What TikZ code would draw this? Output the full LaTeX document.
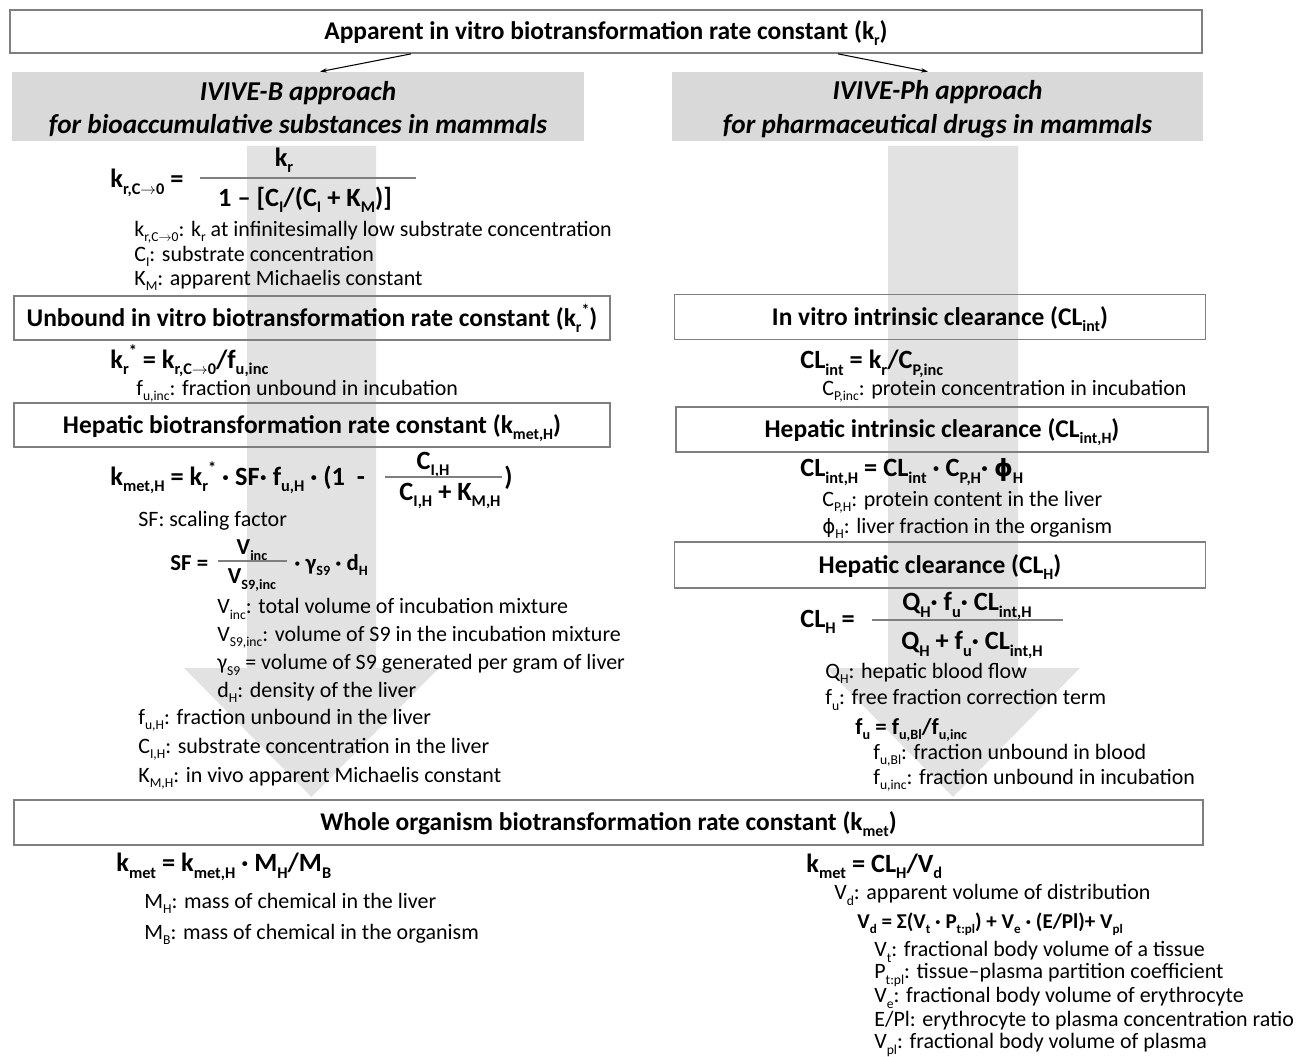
\documentclass[tikz,border=0pt]{standalone}
\usepackage{amsmath}
\usepackage{graphicx}
\usepackage{fontspec}
\setmainfont{Carlito}
\newfontfamily\phifont{DejaVu Sans}
\usetikzlibrary{arrows.meta}

\definecolor{hdrgray}{HTML}{D9D9D9}
\definecolor{arrgray}{HTML}{E2E2E2}
\definecolor{boxgray}{HTML}{7F7F7F}

\newcommand{\lo}[1]{\raisebox{-0.5ex}{\scalebox{0.62}{#1}}}
\newcommand{\losup}[2]{\lo{#1}\raisebox{0.9ex}{\scalebox{0.62}{#2}}}
\newcommand{\tosub}{\ensuremath{\rightarrow}}
\newcommand{\phiH}{{\phifont\scalebox{0.9}{ϕ}}}

\tikzset{
  box/.style={draw=boxgray, line width=1pt, inner sep=0pt, text height=12pt, text depth=2.7pt,
    font=\fontsize{14.5}{17}\selectfont\bfseries},
  hdr/.style={fill=hdrgray, inner sep=0pt, align=center, font=\fontsize{15.5}{18.8}\selectfont\bfseries\itshape},
  eq/.style={anchor=west, inner sep=0pt, font=\fontsize{15}{17}\selectfont\bfseries},
  eqs/.style={anchor=west, inner sep=0pt, font=\fontsize{13}{15}\selectfont\bfseries},
  frac/.style={inner sep=0pt, font=\fontsize{15}{17}\selectfont\bfseries},
  fracs/.style={inner sep=0pt, font=\fontsize{13}{15}\selectfont\bfseries},
  lbl/.style={anchor=west, inner sep=0pt, font=\fontsize{12.5}{14}\selectfont},
  bar/.style={draw=boxgray, line width=0.8pt},
  link/.style={line width=0.6pt, -{Stealth[length=4pt,width=2.5pt]}}
}

\begin{document}
\begin{tikzpicture}[x=0.02cm, y=-0.02cm]

  \useasboundingbox (0,0) rectangle (1297,1057);

  % big gray arrows behind everything
  \fill[arrgray] (247,146) -- (376,146) -- (376,668) -- (439,668) -- (311.5,797)
    -- (184,668) -- (247,668) -- cycle;
  \fill[arrgray] (888,146) -- (1018,146) -- (1018,668) -- (1080,668) -- (953,797)
    -- (826,668) -- (888,668) -- cycle;

  % top box
  \node[box, minimum width=23.84cm, minimum height=0.86cm] (top) at (606,31.5)
    {Apparent in vitro biotransformation rate constant (k\lo{r})};

  % the two approaches
  \node[hdr, minimum width=11.44cm, minimum height=1.38cm] (hdrB) at (298,106.5)
    {\rule{0pt}{14pt}IVIVE-B approach\\for bioaccumulative substances in mammals};
  \node[hdr, minimum width=10.62cm, minimum height=1.38cm] (hdrPh) at (937.5,106.5)
    {\rule{0pt}{14pt}IVIVE-Ph approach\\for pharmaceutical drugs in mammals};

  \draw[link] ([xshift=-3.9cm]top.south) -- ([xshift=0.44cm]hdrB.north);
  \draw[link] ([xshift=4.64cm]top.south) -- ([xshift=-0.19cm]hdrPh.north);

  % IVIVE-B: low concentration rate constant
  \node[eq] (krc) at (110,183) {k\lo{r,C\tosub0} =};
  \node[frac] (krcNum) at (284,160) {k\lo{r}};
  \draw[bar] (200,178) -- (416,178);
  \node[frac] (krcDen) at (305,200) {1 – [C\lo{I}/(C\lo{I} + K\lo{M})]};
  \node[lbl] (krcA) at (134,232) {k\lo{r,C\tosub0}: k\lo{r} at infinitesimally low substrate concentration};
  \node[lbl] (krcB) at (134,256) {C\lo{I}: substrate concentration};
  \node[lbl] (krcC) at (134,280) {K\lo{M}: apparent Michaelis constant};

  % IVIVE-B: unbound rate constant
  \node[box, minimum width=11.92cm, minimum height=0.88cm] (unb) at (312,318)
    {Unbound in vitro biotransformation rate constant (k\losup{r}{*})};
  \node[eq] (unbEq) at (110,361) {k\losup{r}{*} = k\lo{r,C\tosub0}/f\lo{u,inc}};
  \node[lbl] (unbA) at (136,391) {f\lo{u,inc}: fraction unbound in incubation};

  % IVIVE-B: hepatic rate constant
  \node[box, minimum width=11.92cm, minimum height=0.88cm] (hepB) at (312,425)
    {Hepatic biotransformation rate constant (k\lo{met,H})};
  \node[eq] (hepEq) at (110,478) {k\lo{met,H} = k\losup{r}{*} · SF· f\lo{u,H} · (1\ \ -};
  \node[frac] (hepNum) at (433,465) {C\lo{I,H}};
  \draw[bar] (385,477) -- (502,477);
  \node[frac] (hepDen) at (450,496) {C\lo{I,H} + K\lo{M,H}};
  \node[eq] (hepEnd) at (504,478) {)};
  \node[lbl] (sfA) at (138,521) {SF: scaling factor};
  \node[eqs] (sfEq) at (170,563) {SF =};
  \node[fracs] (sfNum) at (252,550) {V\lo{inc}};
  \draw[bar] (218,561) -- (287,561);
  \node[fracs] (sfDen) at (252,580) {V\lo{S9,inc}};
  \node[eqs] (sfEnd) at (294,565) {· γ\lo{S9} · d\lo{H}};
  \node[lbl] (sfB) at (217,609) {V\lo{inc}: total volume of incubation mixture};
  \node[lbl] (sfC) at (217,637) {V\lo{S9,inc}: volume of S9 in the incubation mixture};
  \node[lbl] (sfD) at (217,665) {γ\lo{S9} = volume of S9 generated per gram of liver};
  \node[lbl] (sfE) at (217,692) {d\lo{H}: density of the liver};
  \node[lbl] (hepA) at (138,720) {f\lo{u,H}: fraction unbound in the liver};
  \node[lbl] (hepB2) at (138,749) {C\lo{I,H}: substrate concentration in the liver};
  \node[lbl] (hepC) at (138,778) {K\lo{M,H}: in vivo apparent Michaelis constant};

  % IVIVE-Ph: in vitro clearance
  \node[box, minimum width=10.62cm, minimum height=0.9cm] (clInt) at (940,317)
    {In vitro intrinsic clearance (CL\lo{int})};
  \node[eq] (clIntEq) at (800,364) {CL\lo{int} = k\lo{r}/C\lo{P,inc}};
  \node[lbl] (clIntA) at (822,391) {C\lo{P,inc}: protein concentration in incubation};

  % IVIVE-Ph: hepatic intrinsic clearance
  \node[box, minimum width=10.64cm, minimum height=0.9cm] (clIntH) at (942,429.5)
    {Hepatic intrinsic clearance (CL\lo{int,H})};
  \node[eq] (clIntHEq) at (800,472) {CL\lo{int,H} = CL\lo{int} · C\lo{P,H}· \phiH\lo{H}};
  \node[lbl] (clIntHA) at (822,502) {C\lo{P,H}: protein content in the liver};
  \node[lbl] (clIntHB) at (822,528) {\phiH\lo{H}: liver fraction in the organism};

  % IVIVE-Ph: hepatic clearance
  \node[box, minimum width=10.62cm, minimum height=0.92cm] (clH) at (940,565)
    {Hepatic clearance (CL\lo{H})};
  \node[eq] (clHEq) at (800,622) {CL\lo{H} =};
  \node[frac] (clHNum) at (967,606) {Q\lo{H}· f\lo{u}· CL\lo{int,H}};
  \draw[bar] (872,620) -- (1063,620);
  \node[frac] (clHDen) at (972,645) {Q\lo{H} + f\lo{u}· CL\lo{int,H}};
  \node[lbl] (clHA) at (825,673) {Q\lo{H}: hepatic blood flow};
  \node[lbl] (clHB) at (825,700) {f\lo{u}: free fraction correction term};
  \node[eqs] (fuEq) at (855,730) {f\lo{u} = f\lo{u,Bl}/f\lo{u,inc}};
  \node[lbl] (fuA) at (873,755) {f\lo{u,Bl}: fraction unbound in blood};
  \node[lbl] (fuB) at (873,780) {f\lo{u,inc}: fraction unbound in incubation};

  % whole organism
  \node[box, minimum width=23.78cm, minimum height=0.9cm] (whole) at (608.5,822.5)
    {Whole organism biotransformation rate constant (k\lo{met})};
  \node[eq] (kmetB) at (116,867) {k\lo{met} = k\lo{met,H} · M\lo{H}/M\lo{B}};
  \node[lbl] (kmetBA) at (144,903) {M\lo{H}: mass of chemical in the liver};
  \node[lbl] (kmetBB) at (144,934) {M\lo{B}: mass of chemical in the organism};
  \node[eq] (kmetPh) at (806,866) {k\lo{met} = CL\lo{H}/V\lo{d}};
  \node[lbl] (vdA) at (834,895) {V\lo{d}: apparent volume of distribution};
  \node[eqs, font=\fontsize{12}{14}\selectfont\bfseries] (vdEq) at (857,924)
    {V\lo{d} = Σ(V\lo{t} · P\lo{t:pl}) + V\lo{e} · (E/Pl)+ V\lo{pl}};
  \node[lbl] (vdB) at (874,952) {V\lo{t}: fractional body volume of a tissue};
  \node[lbl] (vdC) at (874,975) {P\lo{t:pl}: tissue–plasma partition coefficient};
  \node[lbl] (vdD) at (874,998) {V\lo{e}: fractional body volume of erythrocyte};
  \node[lbl] (vdE) at (874,1021) {E/Pl: erythrocyte to plasma concentration ratio};
  \node[lbl] (vdF) at (874,1045) {V\lo{pl}: fractional body volume of plasma};

\end{tikzpicture}
\end{document}
